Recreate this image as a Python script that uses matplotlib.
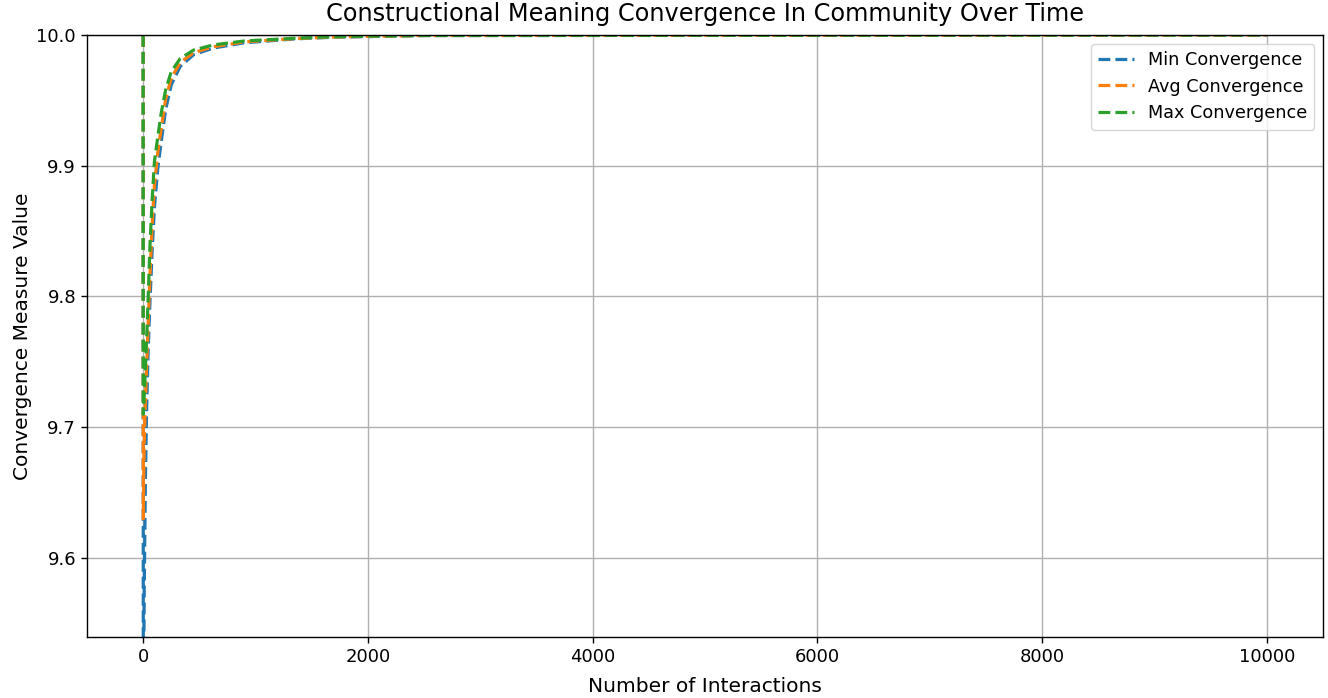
import numpy as np
import matplotlib.pyplot as plt

# the reference looks like a ~1.25x render, slightly stretched vertically
s = 1.25
plt.rcParams.update({
    'font.size': 13,
    'axes.linewidth': 0.8 * s,
    'xtick.major.width': 0.8 * s,
    'ytick.major.width': 0.8 * s,
    'xtick.major.size': 3.5 * s,
    'ytick.major.size': 3.5 * s,
    'grid.linewidth': 0.8 * s,
})

# values
interactions = [0, 1, 5, 10, 20, 30, 45, 60, 80, 100, 130, 160, 200, 250,
                330, 450, 625, 900, 1350, 1700, 2500, 10000]
min_conv = [10.0, 9.45, 9.52, 9.58, 9.66, 9.71, 9.76, 9.795, 9.835, 9.868,
            9.898, 9.918, 9.943, 9.962, 9.976, 9.985, 9.990, 9.994, 9.997,
            9.9983, 9.9995, 10.0]
avg_conv = [10.0, 9.63, 9.66, 9.69, 9.72, 9.745, 9.78, 9.815, 9.855, 9.885,
            9.910, 9.928, 9.951, 9.967, 9.979, 9.9865, 9.991, 9.9947, 9.9972,
            9.9985, 9.9996, 10.0]
max_conv = [10.0, 9.71, 9.715, 9.725, 9.745, 9.765, 9.800, 9.838, 9.874,
            9.903, 9.922, 9.940, 9.958, 9.972, 9.982, 9.9885, 9.9924, 9.9954,
            9.9975, 9.9987, 9.9997, 10.0]

fig = plt.figure(figsize=(13.28, 6.98), dpi=100)
ax = fig.add_axes([0.0655, 0.0874, 0.9307, 0.8625])

lw = 2.3
ax.plot(interactions, min_conv, '--', color='#1f77b4', lw=lw, label='Min Convergence')
ax.plot(interactions, avg_conv, '--', color='#ff7f0e', lw=lw, label='Avg Convergence')
ax.plot(interactions, max_conv, '--', color='#2ca02c', lw=lw, label='Max Convergence')

ax.set_xlim(-500, 10500)
ax.set_ylim(9.5396, 10.0)
ax.set_yticks([9.6, 9.7, 9.8, 9.9, 10.0])
ax.set_xlabel('Number of Interactions', fontsize=14.5, labelpad=8)
ax.set_ylabel('Convergence Measure Value', fontsize=14.5, labelpad=3)
ax.set_title('Constructional Meaning Convergence In Community Over Time',
             fontsize=17.3, pad=10)
ax.grid(True)
ax.legend(loc='upper right', fontsize=12.7)

fig.savefig('out.png', dpi=100)
